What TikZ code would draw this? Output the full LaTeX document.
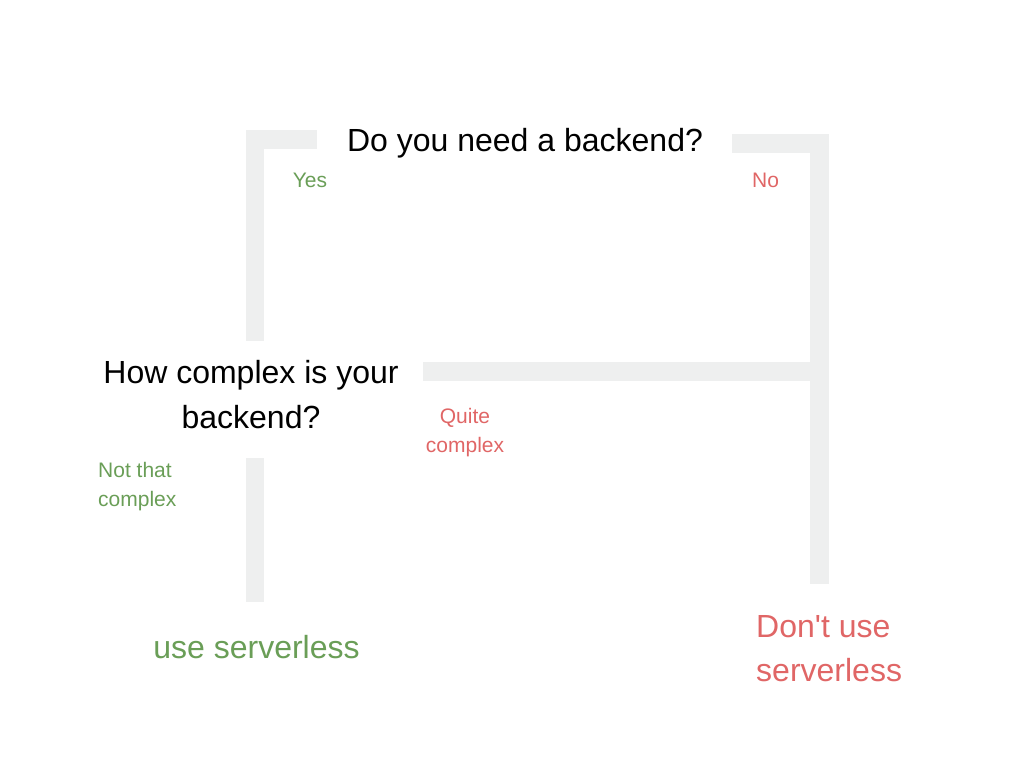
\documentclass[tikz,border=0pt]{standalone}
\usepackage{fontspec}
\setmainfont{Liberation Sans}
\usetikzlibrary{calc}
\definecolor{bargray}{HTML}{EEEFEF}
\definecolor{yesgreen}{HTML}{6A9E57}
\definecolor{nored}{HTML}{E06666}
\tikzset{bar/.style={draw=bargray, line width=18.5pt, line join=miter}}
\tikzset{question/.style={inner sep=0pt, font=\fontsize{32}{45}\selectfont, align=center}}
\tikzset{answer/.style={inner sep=0pt, font=\fontsize{21}{29}\selectfont}}
\tikzset{verdict/.style={inner sep=0pt, font=\fontsize{32}{44}\selectfont}}

\begin{document}
\begin{tikzpicture}[x=1pt, y=-1pt]
    \useasboundingbox (0,0) rectangle (1024,768);

    % Define coordinates for the ends of the bars
    \coordinate (yesStart) at (317,139.5);
    \coordinate (yesEnd) at (255,341);
    \coordinate (noStart) at (732,143.5);
    \coordinate (noEnd) at (819.5,584);
    \coordinate (quiteStart) at (423,371.5);
    \coordinate (notThatStart) at (255,458);
    \coordinate (notThatEnd) at (255,602);

    % Draw the bars
    \draw[bar] (yesStart) -| (yesEnd);
    \draw[bar] (noStart) -| (noEnd);
    \draw[bar] (quiteStart) -- (quiteStart -| noEnd);
    \draw[bar] (notThatStart) -- (notThatEnd);

    % Questions
    \node[question, anchor=base] (backend) at (525,151) {Do you need a backend?};
    \node[question, anchor=base] (complex) at (251,428) {How complex is your\\backend?};

    % Answers on the bars
    \node[answer, anchor=base, text=yesgreen] (yes) at (310,187) {Yes};
    \node[answer, anchor=base, text=nored] (no) at (765.5,187) {No};
    \node[answer, anchor=base, text=nored, align=center] (quite) at (465,452) {Quite\\complex};
    \node[answer, anchor=base west, text=yesgreen, align=left] (notthat) at (98,506) {Not that\\complex};

    % Outcomes
    \node[verdict, anchor=base, text=yesgreen] (use) at (256.5,658) {use serverless};
    \node[verdict, anchor=base west, text=nored, align=left] (dont) at (756,681) {Don\textquotesingle t use\\serverless};

\end{tikzpicture}
\end{document}
